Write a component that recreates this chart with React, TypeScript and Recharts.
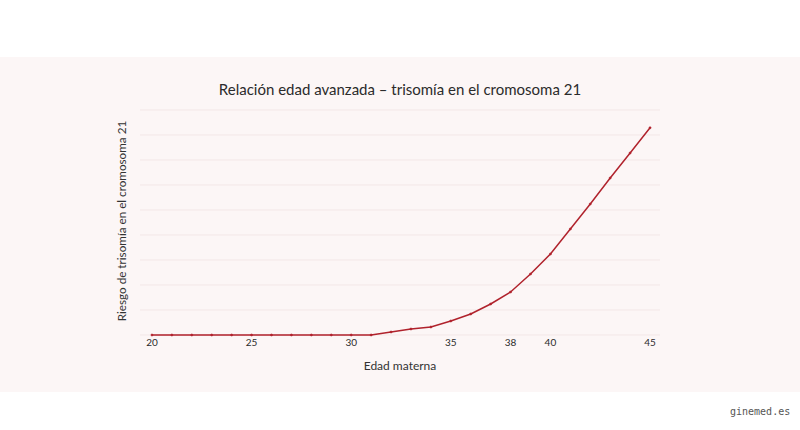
import React from "react";
import { LineChart, Line, XAxis, YAxis, CartesianGrid } from "recharts";

const ages = [20, 21, 22, 23, 24, 25, 26, 27, 28, 29, 30, 31, 32, 33, 34, 35, 36, 37, 38, 39, 40, 41, 42, 43, 44, 45];
const risk = [0, 0, 0, 0, 0, 0, 0, 0, 0, 0, 0, 0, 0.12, 0.24, 0.32, 0.56, 0.84, 1.24, 1.72, 2.44, 3.24, 4.24, 5.24, 6.28, 7.28, 8.29];
const xTicks = [20, 25, 30, 35, 38, 40, 45];
const yTicks = [0, 1, 2, 3, 4, 5, 6, 7, 8, 9];

const title = "Relación edad avanzada – trisomía en el cromosoma 21";
const xTitle = "Edad materna";
const yTitle = "Riesgo de trisomía en el cromosoma 21";
const watermark = "ginemed.es";

const data = ages.map((a, i) => ({ age: a, risk: risk[i] }));

const LINE = "#b0222c";
const FONT = "Lato, 'Open Sans', sans-serif";

export default function App() {
  return (
    <div style={{ position: "absolute", left: 0, top: 0, width: 800, height: 430, background: "#ffffff", overflow: "hidden", fontFamily: FONT }}>
      <div style={{ position: "absolute", left: 0, top: 57, width: 800, height: 335, background: "#fcf6f6" }} />
      <div style={{ position: "absolute", left: 0, top: 80, width: 800, textAlign: "center", fontSize: 15, color: "#2b2b2b" }}>{title}</div>
      <div style={{ position: "absolute", left: 0, top: 358, width: 800, textAlign: "center", fontSize: 12, color: "#333" }}>{xTitle}</div>
      <div style={{ position: "absolute", left: 121, top: 221, width: 0, height: 0 }}>
        <div style={{ position: "absolute", left: 0, top: 0, transform: "translate(-50%, -50%) rotate(-90deg)", whiteSpace: "nowrap", fontSize: 11.7, color: "#333" }}>{yTitle}</div>
      </div>
      <div style={{ position: "absolute", left: 730, top: 406, fontFamily: "'DejaVu Sans Mono', monospace", fontSize: 10, color: "#555" }}>{watermark}</div>
      <div style={{ position: "absolute", left: 0, top: 0 }}>
        <LineChart width={800} height={430} data={data} margin={{ top: 110, right: 140, bottom: 75, left: 140 }}>
          <CartesianGrid vertical={false} stroke="#f3e7e7" strokeWidth={1} />
          <XAxis
            dataKey="age"
            type="number"
            domain={[19.4, 45.5]}
            ticks={xTicks}
            allowDataOverflow
            axisLine={false}
            tickLine={false}
            tickSize={0}
            tickMargin={4}
            height={20}
            tick={{ fill: "#2b2b2b", fontSize: 10, fontFamily: FONT }}
          />
          <YAxis hide domain={[0, 9]} ticks={yTicks} width={0} />
          <Line
            dataKey="risk"
            stroke={LINE}
            strokeWidth={1.5}
            dot={{ r: 1.1, fill: LINE, stroke: LINE, strokeWidth: 0.5 }}
            isAnimationActive={false}
          />
        </LineChart>
      </div>
    </div>
  );
}
